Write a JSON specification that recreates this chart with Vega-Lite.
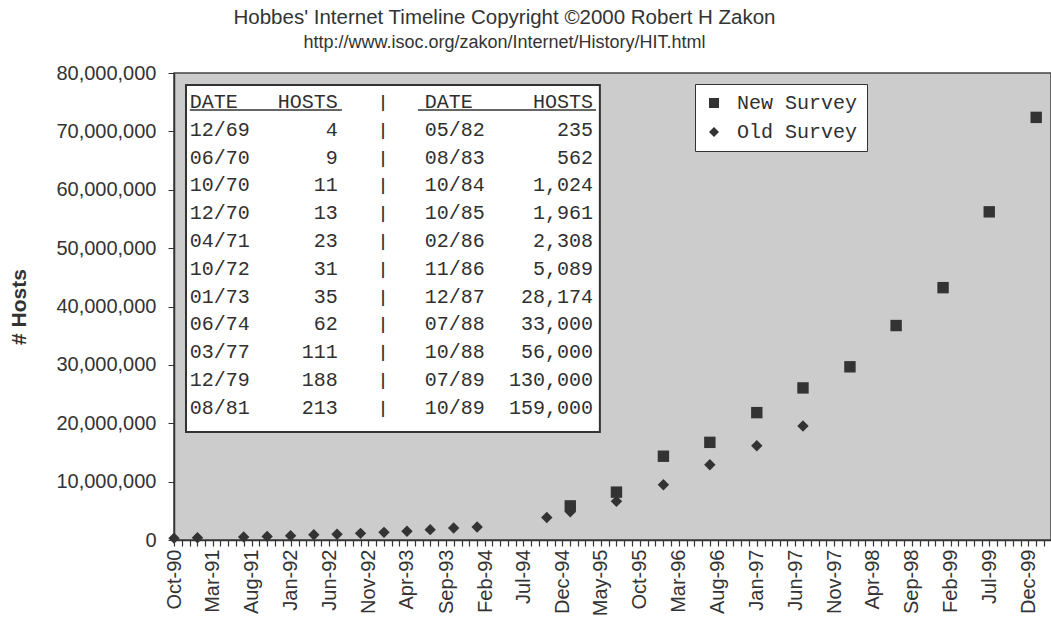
{
  "$schema": "https://vega.github.io/schema/vega-lite/v6.json",
  "width": 877,
  "height": 467,
  "autosize": {"type": "none"},
  "padding": {"left": 174, "top": 73, "right": 0, "bottom": 82},
  "background": "white",
  "title": {
    "text": "Hobbes' Internet Timeline Copyright ©2000 Robert H Zakon",
    "subtitle": "http://www.isoc.org/zakon/Internet/History/HIT.html",
    "anchor": "middle",
    "dx": -108,
    "offset": 11,
    "font": "Liberation Sans",
    "fontSize": 20.5,
    "fontWeight": "normal",
    "color": "#333333",
    "subtitleFont": "Liberation Sans",
    "subtitleFontSize": 18,
    "subtitleColor": "#333333",
    "subtitlePadding": 6
  },
  "config": {
    "view": {"fill": "#cccccc", "stroke": "#444444", "strokeWidth": 1.5},
    "text": {"font": "Liberation Mono", "fontSize": 20, "color": "#303030"}
  },
  "datasets": {
    "hosts": [
      {"date": "1990-10-01", "hosts": 313000, "survey": "Old Survey"},
      {"date": "1991-01-01", "hosts": 376000, "survey": "Old Survey"},
      {"date": "1991-07-01", "hosts": 535000, "survey": "Old Survey"},
      {"date": "1991-10-01", "hosts": 617000, "survey": "Old Survey"},
      {"date": "1992-01-01", "hosts": 727000, "survey": "Old Survey"},
      {"date": "1992-04-01", "hosts": 890000, "survey": "Old Survey"},
      {"date": "1992-07-01", "hosts": 992000, "survey": "Old Survey"},
      {"date": "1992-10-01", "hosts": 1136000, "survey": "Old Survey"},
      {"date": "1993-01-01", "hosts": 1313000, "survey": "Old Survey"},
      {"date": "1993-04-01", "hosts": 1486000, "survey": "Old Survey"},
      {"date": "1993-07-01", "hosts": 1776000, "survey": "Old Survey"},
      {"date": "1993-10-01", "hosts": 2056000, "survey": "Old Survey"},
      {"date": "1994-01-01", "hosts": 2217000, "survey": "Old Survey"},
      {"date": "1994-10-01", "hosts": 3864000, "survey": "Old Survey"},
      {"date": "1995-01-01", "hosts": 4852000, "survey": "Old Survey"},
      {"date": "1995-07-01", "hosts": 6642000, "survey": "Old Survey"},
      {"date": "1996-01-01", "hosts": 9472000, "survey": "Old Survey"},
      {"date": "1996-07-01", "hosts": 12881000, "survey": "Old Survey"},
      {"date": "1997-01-01", "hosts": 16146000, "survey": "Old Survey"},
      {"date": "1997-07-01", "hosts": 19540000, "survey": "Old Survey"},
      {"date": "1995-01-01", "hosts": 5846000, "survey": "New Survey"},
      {"date": "1995-07-01", "hosts": 8200000, "survey": "New Survey"},
      {"date": "1996-01-01", "hosts": 14352000, "survey": "New Survey"},
      {"date": "1996-07-01", "hosts": 16729000, "survey": "New Survey"},
      {"date": "1997-01-01", "hosts": 21819000, "survey": "New Survey"},
      {"date": "1997-07-01", "hosts": 26053000, "survey": "New Survey"},
      {"date": "1998-01-01", "hosts": 29670000, "survey": "New Survey"},
      {"date": "1998-07-01", "hosts": 36739000, "survey": "New Survey"},
      {"date": "1999-01-01", "hosts": 43230000, "survey": "New Survey"},
      {"date": "1999-07-01", "hosts": 56218000, "survey": "New Survey"},
      {"date": "2000-01-01", "hosts": 72398000, "survey": "New Survey"}
    ],
    "table": [
      {"r": 0, "d1": "DATE", "h1": "HOSTS", "s": "|", "d2": "DATE", "h2": "HOSTS"},
      {"r": 1, "d1": "12/69", "h1": "4", "s": "|", "d2": "05/82", "h2": "235"},
      {"r": 2, "d1": "06/70", "h1": "9", "s": "|", "d2": "08/83", "h2": "562"},
      {"r": 3, "d1": "10/70", "h1": "11", "s": "|", "d2": "10/84", "h2": "1,024"},
      {"r": 4, "d1": "12/70", "h1": "13", "s": "|", "d2": "10/85", "h2": "1,961"},
      {"r": 5, "d1": "04/71", "h1": "23", "s": "|", "d2": "02/86", "h2": "2,308"},
      {"r": 6, "d1": "10/72", "h1": "31", "s": "|", "d2": "11/86", "h2": "5,089"},
      {"r": 7, "d1": "01/73", "h1": "35", "s": "|", "d2": "12/87", "h2": "28,174"},
      {"r": 8, "d1": "06/74", "h1": "62", "s": "|", "d2": "07/88", "h2": "33,000"},
      {"r": 9, "d1": "03/77", "h1": "111", "s": "|", "d2": "10/88", "h2": "56,000"},
      {"r": 10, "d1": "12/79", "h1": "188", "s": "|", "d2": "07/89", "h2": "130,000"},
      {"r": 11, "d1": "08/81", "h1": "213", "s": "|", "d2": "10/89", "h2": "159,000"}
    ]
  },
  "layer": [
    {
      "data": {"name": "hosts"},
      "mark": {"type": "point", "filled": true, "opacity": 1, "color": "#333333", "strokeWidth": 0, "size": 130},
      "encoding": {
        "x": {
          "field": "date",
          "type": "temporal",
          "scale": {
            "type": "utc",
            "domain": [
              {"year": 1990, "month": 10, "date": 1, "utc": true},
              {"year": 2000, "month": 2, "date": 28, "utc": true}
            ],
            "nice": false
          },
          "axis": {
            "title": null,
            "tickCount": {"interval": "month", "step": 1},
            "labelExpr": "((utcyear(datum.value)-1990)*12+utcmonth(datum.value)-9)%5==0 ? utcFormat(datum.value,'%b-%y') : ''",
            "labelAngle": -90,
            "labelFont": "Liberation Sans",
            "labelFontSize": 20,
            "labelColor": "#333333",
            "labelPadding": 3,
            "tickSize": 6,
            "tickColor": "#333333",
            "tickWidth": 1.2,
            "domainColor": "#333333",
            "domainWidth": 1.5,
            "labelOverlap": false,
            "labelBound": false,
            "labelFlush": false,
            "grid": false
          }
        },
        "y": {
          "field": "hosts",
          "type": "quantitative",
          "scale": {"domain": [0, 80000000], "nice": false},
          "axis": {
            "title": "# Hosts",
            "values": [0, 10000000, 20000000, 30000000, 40000000, 50000000, 60000000, 70000000, 80000000],
            "format": ",d",
            "labelFont": "Liberation Sans",
            "labelFontSize": 20,
            "labelColor": "#333333",
            "tickSize": 6,
            "tickColor": "#333333",
            "labelPadding": 12,
            "grid": false,
            "domainColor": "#333333",
            "domainWidth": 1.5,
            "titleFont": "Liberation Sans",
            "titleFontWeight": "bold",
            "titleFontSize": 21,
            "titleColor": "#333333",
            "titlePadding": 26
          }
        },
        "shape": {
          "field": "survey",
          "type": "nominal",
          "scale": {"domain": ["New Survey", "Old Survey"], "range": ["square", "diamond"]},
          "legend": {
            "title": null,
            "orient": "none",
            "legendX": 521,
            "legendY": 11,
            "fillColor": "white",
            "strokeColor": "#333333",
            "padding": 9,
            "labelFont": "Liberation Mono",
            "labelFontSize": 20,
            "labelColor": "#303030",
            "labelOffset": 13,
            "symbolSize": 100,
            "symbolFillColor": "#333333",
            "symbolStrokeWidth": 0,
            "rowPadding": 9
          }
        }
      }
    },
    {
      "data": {"name": "table"},
      "layer": [
        {
          "data": {"values": [{}]},
          "mark": {"type": "rect", "fill": "white", "stroke": "#333333", "strokeWidth": 2},
          "encoding": {
            "x": {"datum": {"year": 1990, "month": 11, "date": 17, "utc": true}, "type": "temporal"},
            "x2": {"datum": {"year": 1995, "month": 4, "date": 27, "utc": true}},
            "y": {"datum": -0.61, "type": "quantitative", "scale": {"domain": [-1.043, 15.755], "reverse": true, "nice": false, "zero": false}, "axis": null},
            "y2": {"datum": 11.87}
          }
        },
        {
          "data": {"values": [{}]},
          "mark": {"type": "rule", "stroke": "#333333", "strokeWidth": 1.5},
          "encoding": {
            "x": {"datum": {"year": 1990, "month": 12, "date": 2, "utc": true}, "type": "temporal"},
            "x2": {"datum": {"year": 1992, "month": 7, "date": 20, "utc": true}},
            "y": {"datum": 0.29, "type": "quantitative", "axis": null}
          }
        },
        {
          "data": {"values": [{}]},
          "mark": {"type": "rule", "stroke": "#333333", "strokeWidth": 1.5},
          "encoding": {
            "x": {"datum": {"year": 1993, "month": 5, "date": 14, "utc": true}, "type": "temporal"},
            "x2": {"datum": {"year": 1995, "month": 4, "date": 12, "utc": true}},
            "y": {"datum": 0.29, "type": "quantitative", "axis": null}
          }
        },
        {
          "mark": {"type": "text", "align": "left", "baseline": "middle"},
          "encoding": {
            "x": {"datum": {"year": 1990, "month": 12, "date": 2, "utc": true}, "type": "temporal"},
            "y": {"field": "r", "type": "quantitative", "axis": null},
            "text": {"field": "d1"}
          }
        },
        {
          "mark": {"type": "text", "align": "right", "baseline": "middle"},
          "encoding": {
            "x": {"datum": {"year": 1992, "month": 7, "date": 4, "utc": true}, "type": "temporal"},
            "y": {"field": "r", "type": "quantitative", "axis": null},
            "text": {"field": "h1"}
          }
        },
        {
          "mark": {"type": "text", "align": "center", "baseline": "middle", "fontSize": 15, "fontWeight": "bold", "font": "DejaVu Sans Mono"},
          "encoding": {
            "x": {"datum": {"year": 1992, "month": 12, "date": 28, "utc": true}, "type": "temporal"},
            "y": {"field": "r", "type": "quantitative", "axis": null},
            "text": {"field": "s"},
            "color": {"value": "#303030"}
          }
        },
        {
          "mark": {"type": "text", "align": "left", "baseline": "middle"},
          "encoding": {
            "x": {"datum": {"year": 1993, "month": 6, "date": 10, "utc": true}, "type": "temporal"},
            "y": {"field": "r", "type": "quantitative", "axis": null},
            "text": {"field": "d2"}
          }
        },
        {
          "mark": {"type": "text", "align": "right", "baseline": "middle"},
          "encoding": {
            "x": {"datum": {"year": 1995, "month": 3, "date": 31, "utc": true}, "type": "temporal"},
            "y": {"field": "r", "type": "quantitative", "axis": null},
            "text": {"field": "h2"}
          }
        }
      ]
    }
  ],
  "resolve": {"scale": {"y": "independent"}}
}
